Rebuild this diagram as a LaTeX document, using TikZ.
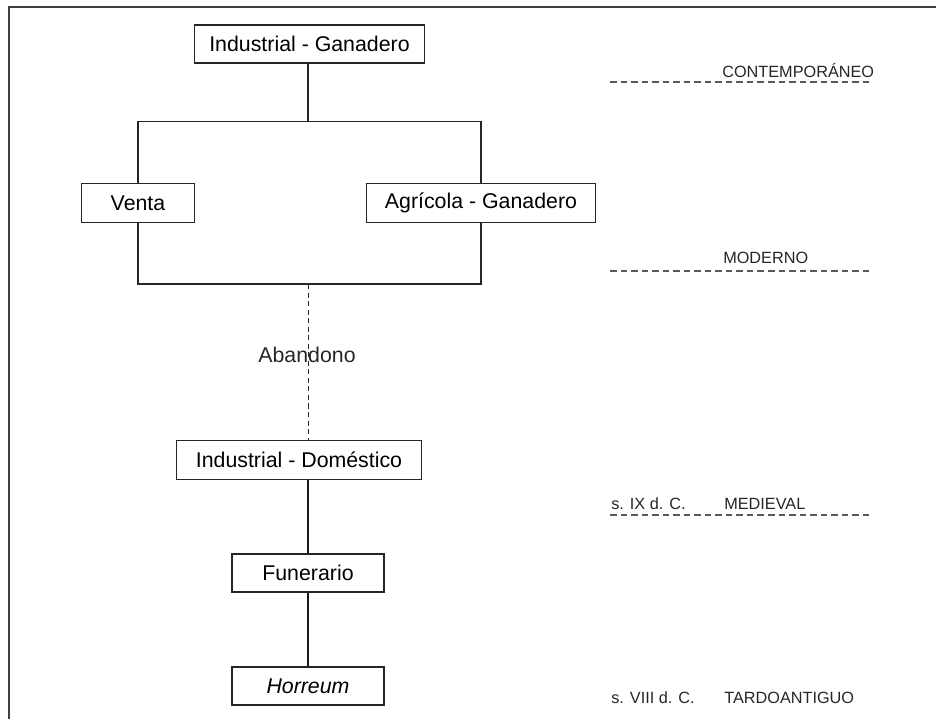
\documentclass[tikz,border=0pt]{standalone}
\usepackage{fontspec}
\setmainfont{Liberation Sans}
\usepackage{tikz}
\usetikzlibrary{positioning}
\tikzset{font=\fontsize{16}{19}\selectfont}
\tikzset{usebox/.style={draw=black!85,line width=0.9pt,minimum height=29pt,inner sep=0pt}}
\tikzset{eralabel/.style={anchor=west,inner sep=0pt,text=black!85,font=\fontsize{12.2}{14}\selectfont}}
\tikzset{eraline/.style={draw=black!65,line width=1pt,dash pattern=on 4.9pt off 3pt}}

\begin{document}
\begin{tikzpicture}[x=0.75pt,y=-0.75pt]
  \useasboundingbox (0,0) rectangle (936,719);
  % frame
  \draw[line width=1.8pt,black!75] (9,719) -- (9,7) -- (936,7);

  % uses
  \node[usebox,minimum width=173pt,minimum height=28.5pt] (indgan) at (309.5,44) {Industrial - Ganadero};
  \node[usebox,minimum width=85pt] (venta) at (138,203) {Venta};
  \node[usebox,minimum width=172pt] (agri) at (481,203) {Agrícola - Ganadero};
  \node[usebox,minimum width=184pt] (inddom) at (299,460) {Industrial - Doméstico};
  \node[usebox,minimum width=114pt,minimum height=28.5pt] (fun) at (308,573) {Funerario};
  \node[usebox,minimum width=114pt,minimum height=28.5pt] (hor) at (308,686) {\itshape Horreum};

  \coordinate (split) at (308,121.5);
  \coordinate (join) at (308,284);

  \draw[line width=0.9pt,black!85] (indgan.south -| split) -- (split);
  \draw[line width=0.9pt,black!85] (venta.north) |- (split) -| (agri.north);
  \draw[line width=0.9pt,black!85] (venta.south) |- (join) -| (agri.south);
  \draw[line width=0.75pt,black!85,dash pattern=on 3.8pt off 2.6pt] (join) -- (join |- inddom.north);
  \node[inner sep=0pt,text=black!85] (aband) at (307,355) {Abandono};
  \draw[line width=1.5pt,black!90] (inddom.south -| fun.north) -- (fun.north);
  \draw[line width=1.5pt,black!90] (fun.south) -- (hor.north);

  % periods
  \draw[eraline] (610,82) -- (873,82);
  \draw[eraline] (610,271) -- (873,271);
  \draw[eraline] (610,515) -- (873,515);
  \node[eralabel] (contemp) at (722,71) {CONTEMPORÁNEO};
  \node[eralabel] (moderno) at (723,258) {MODERNO};
  \node[eralabel] (medieval) at (724,504) {MEDIEVAL};
  \node[eralabel] (tardo) at (724,698) {TARDOANTIGUO};
  \node[eralabel] (sIX) at (611,504) {s. IX d. C.};
  \node[eralabel] (sVIII) at (611,698) {s. VIII d. C.};
\end{tikzpicture}
\end{document}
